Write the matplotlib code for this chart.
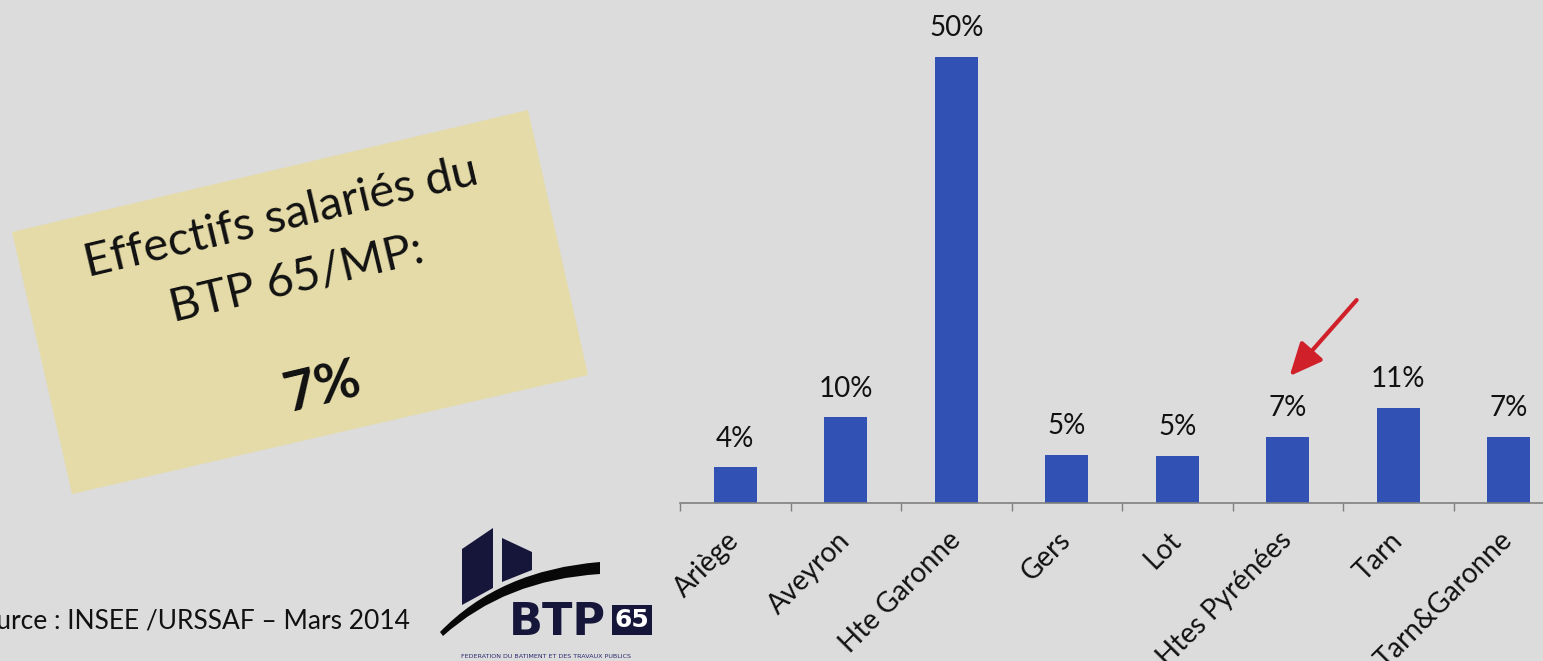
import numpy as np
import matplotlib.pyplot as plt
from matplotlib.patches import Polygon, Rectangle, PathPatch
from matplotlib.path import Path

# Data
departements = ['Ariège', 'Aveyron', 'Hte Garonne', 'Gers', 'Lot',
                'Htes Pyrénées', 'Tarn', 'Tarn&Garonne']
parts = [4.0, 9.6, 50.0, 5.4, 5.3, 7.4, 10.7, 7.4]
highlight = 'Htes Pyrénées'
part_65 = '7%'
source = 'Source : INSEE /URSSAF – Mars 2014'

W, H = 1543, 661
bg = '#dcdcdc'
navy = '#15163a'

plt.rcParams['font.family'] = ['Lato', 'DejaVu Sans']

fig = plt.figure(figsize=(W / 100, H / 100), dpi=100, facecolor=bg)


def px(x, y):
    # pixel (from top-left) -> figure fraction
    return (x / W, 1 - y / H)


# Bar chart
ax = fig.add_axes([680 / W, 158 / H, 884 / W, 490.3 / H])
ax.set_facecolor('none')
x = np.arange(len(departements))
ax.bar(x, parts, width=0.39, color='#3151b4', edgecolor='none')
for xi, v in zip(x, parts):
    ax.annotate(f'{round(v)}%', (xi, v), xytext=(0, 15), textcoords='offset points',
                ha='center', va='baseline', fontsize=20, color='#111111')

ax.set_xlim(-0.5, len(departements) - 0.5)
ax.set_ylim(0, 55)
ax.set_xticks(x)
ax.set_xticklabels(departements, rotation=45, ha='right', va='center',
                   rotation_mode='anchor', fontsize=20, color='#111111')
ax.tick_params(axis='x', which='major', length=0, pad=24)
ax.set_xticks(np.arange(-0.5, len(departements)), minor=True)
ax.tick_params(axis='x', which='minor', length=6, width=1, color='#808080')
ax.set_yticks([])
for s in ['top', 'right', 'left']:
    ax.spines[s].set_visible(False)
ax.spines['bottom'].set_color('#808080')
ax.spines['bottom'].set_linewidth(1.2)

# Red arrow pointing at Hautes-Pyrénées
ih = departements.index(highlight)
ax.annotate('', xy=(ih, parts[ih] + 6.6), xytext=(ih + 0.64, parts[ih] + 15.6),
            arrowprops=dict(arrowstyle='-|>,head_length=2.0,head_width=0.9',
                            color='#d0202a', lw=3))

# Tilted yellow box
corners = [px(12, 232), px(528, 110), px(588, 375), px(72, 494)]
fig.patches.append(Polygon(corners, closed=True, transform=fig.transFigure,
                           facecolor='#e5dba8', edgecolor='none', zorder=0))
fig.text(*px(284, 230), 'Effectifs salariés du', rotation=13.4, ha='center',
         va='baseline', fontsize=34, color='#111111', rotation_mode='anchor')
fig.text(*px(300, 291), 'BTP 65/MP:', rotation=13.4, ha='center', va='baseline',
         fontsize=34, color='#111111', rotation_mode='anchor')
fig.text(*px(326, 403), part_65, rotation=13.4, ha='center', va='baseline',
         fontsize=40, fontweight='bold', color='#111111', rotation_mode='anchor')

# Source (cut at the left edge as in the original)
fig.text(*px(410, 629), source, ha='right', va='baseline', fontsize=19,
         color='#111111')

# Logo BTP 65
fig.patches.append(Polygon([px(462, 549), px(493, 528), px(493, 588), px(462, 605)],
                           transform=fig.transFigure, facecolor=navy, edgecolor='none'))
fig.patches.append(Polygon([px(502, 538), px(532, 552), px(532, 570), px(502, 582)],
                           transform=fig.transFigure, facecolor=navy, edgecolor='none'))
verts = [px(440, 632), px(500, 570), px(600, 562), px(600, 574), px(505, 580),
         px(443, 636), px(440, 632)]
codes = [Path.MOVETO, Path.CURVE3, Path.CURVE3, Path.LINETO, Path.CURVE3,
         Path.CURVE3, Path.CLOSEPOLY]
fig.patches.append(PathPatch(Path(verts, codes), transform=fig.transFigure,
                             facecolor='#080808', edgecolor='none'))
fig.text(*px(509, 635), 'BTP', ha='left', va='baseline', fontsize=32,
         fontweight='bold', family='DejaVu Sans', color=navy)
fig.patches.append(Rectangle(px(612, 635), 40 / W, 30 / H, transform=fig.transFigure,
                             facecolor=navy, edgecolor='none'))
fig.text(*px(632, 620), '65', ha='center', va='center', fontsize=18,
         fontweight='bold', family='DejaVu Sans', color='white')
fig.text(*px(546, 656), 'FEDERATION DU BATIMENT ET DES TRAVAUX PUBLICS', ha='center',
         va='center', fontsize=4.6, family='DejaVu Sans', color='#2a2a70')

fig.savefig('out.png', dpi=100, facecolor=bg)
